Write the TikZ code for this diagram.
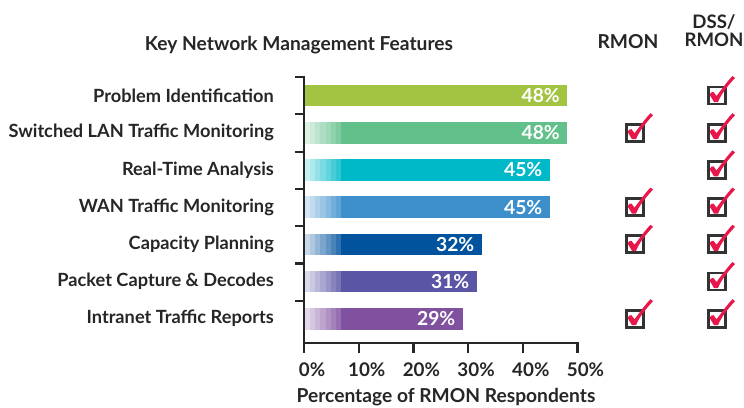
\documentclass[tikz,border=0pt]{standalone}
\usepackage{fontspec}
\setmainfont{Lato}
\begin{document}
\begin{tikzpicture}[x=1pt,y=-1pt,
  lbl/.style={font=\fontsize{18.2}{20}\selectfont\bfseries, text=black!85, inner sep=0pt},
  big/.style={font=\fontsize{19.2}{21}\selectfont\bfseries},
  pct/.style={font=\fontsize{19.3}{21}\selectfont\bfseries, text=white, inner sep=0pt, anchor=east},
  axisline/.style={line width=2.6pt, draw=black!85},
  tick/.style={line width=2.2pt, draw=black!85},
  cbox/.style={draw=black!80, line width=2.8pt, minimum size=17pt, inner sep=0pt},
  chk/.style={fill=chkred, draw=none}
]
\definecolor{chkred}{HTML}{E8174B}
\definecolor{c1}{HTML}{A3C443}
\definecolor{c2}{HTML}{62C08B}
\definecolor{c3}{HTML}{00B9C8}
\definecolor{c4}{HTML}{3D8FCB}
\definecolor{c5}{HTML}{02539D}
\definecolor{c6}{HTML}{5A56A5}
\definecolor{c7}{HTML}{7F519F}
\useasboundingbox (0,0) rectangle (744,407);
\fill[white] (0,0) rectangle (744,407);
% headers
\node[lbl, big] (title) at (299,45) {Key Network Management Features};
\node[lbl, big] (hrmon) at (628,42) {RMON};
\node[lbl, font=\fontsize{18.6}{20}\selectfont\bfseries, align=center] (hdss) at (714,31) {DSS/\\[-2pt]RMON};
% axes
\coordinate (ytop) at (304,77);
\coordinate (orig) at (304,343);
\coordinate (xend) at (578,343);
\draw[axisline, line cap=rect] (ytop) -- (orig) -- (xend);
\foreach \k in {0,...,6} \draw[tick] (295,{77+\k*37.3}) -- (305,{77+\k*37.3});
\foreach \p [count=\i from 0] in {0\%,10\%,20\%,30\%,40\%,50\%} {
  \draw[tick] ({304+\i*54.7},343) -- ({304+\i*54.7},353);
  \node[lbl, font=\fontsize{18.8}{20}\selectfont\bfseries] (t\i) at ({312+\i*54.7},370) {\p};
}
\node[lbl, big] (xtitle) at (446,397) {Percentage of RMON Respondents};
% bars
\foreach \name/\e/\p/\g [count=\i] in {
  Problem Identification/567/48\%/0,
  Switched LAN Traffic Monitoring/567/48\%/1,
  Real-Time Analysis/549.5/45\%/1,
  WAN Traffic Monitoring/549.5/45\%/1,
  Capacity Planning/481.5/32\%/1,
  Packet Capture \& Decodes/476.5/31\%/1,
  Intranet Traffic Reports/462.5/29\%/1} {
  \pgfmathsetmacro{\yc}{95.5+(\i-1)*37.2}
  \fill[c\i] (305,\yc-10.8) rectangle (\e,\yc+10.8);
  \ifnum\g=1
    \foreach \s [count=\j from 0] in {22,32,42,52,62,72,82}
      \fill[c\i!\s!white] ({305+\j*5.15},\yc-10.8) rectangle ({305+(\j+1)*5.15},\yc+10.8);
  \fi
  \node[pct] (p\i) at (\e-7,\yc) {\p};
  \node[lbl, anchor=east] (l\i) at (274,\yc) {\name};
}
% check boxes
\foreach \x/\r in {717/1,717/2,717/3,717/4,717/5,717/6,717/7,635/2,635/4,635/5,635/7} {
  \pgfmathsetmacro{\yc}{95.5+(\r-1)*37.2}
  \node[cbox] (b\x\r) at (\x,\yc) {};
  \fill[chk] (\x-7.5,\yc-1) .. controls (\x-5.5,\yc-3.5) .. (\x-3.5,\yc-3.5)
     -- (\x-0.5,\yc+0.5) .. controls (\x+6,\yc-8) and (\x+11,\yc-15) .. (\x+15.5,\yc-19.5)
     -- (\x+18,\yc-17.5) .. controls (\x+10,\yc-9) and (\x+4,\yc-1) .. (\x+1,\yc+6.5)
     -- (\x-3,\yc+6.5) -- cycle;
}
\end{tikzpicture}
\end{document}
